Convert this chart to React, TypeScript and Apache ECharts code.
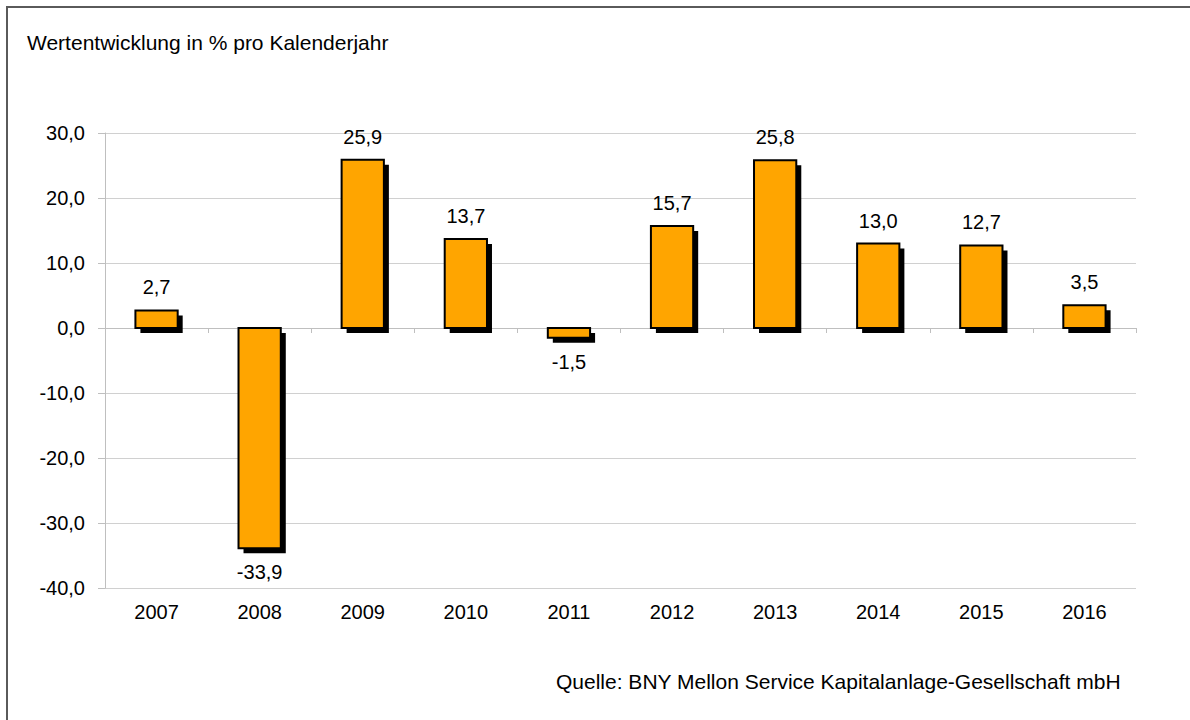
import React, { useEffect, useRef } from "react";
import * as echarts from "echarts";

const years = ["2007", "2008", "2009", "2010", "2011", "2012", "2013", "2014", "2015", "2016"];
const returns = [2.7, -33.9, 25.9, 13.7, -1.5, 15.7, 25.8, 13.0, 12.7, 3.5];
const titleText = "Wertentwicklung in % pro Kalenderjahr";
const sourceText = "Quelle: BNY Mellon Service Kapitalanlage-Gesellschaft mbH";

const FONT = "'Liberation Sans', Arial, sans-serif";
const fmt = (v: number) => v.toFixed(1).replace(".", ",");

export default function App() {
  const ref = useRef<HTMLDivElement>(null);
  useEffect(() => {
    if (!ref.current) return;
    const chart = echarts.init(ref.current, undefined, { renderer: "svg" });
    chart.setOption({
      animation: false,
      backgroundColor: "#ffffff",
      textStyle: { fontFamily: FONT },
      grid: { left: 105, right: 54, top: 133, bottom: 132 },
      xAxis: [
        {
          type: "category",
          data: years,
          position: "bottom",
          axisLine: { show: true, onZero: true, lineStyle: { color: "#bfbfbf", width: 1 } },
          axisTick: { show: true, length: 5, lineStyle: { color: "#bfbfbf" } },
          axisLabel: { show: false },
        },
        {
          type: "category",
          data: years,
          position: "bottom",
          axisLine: { show: false, onZero: false },
          axisTick: { show: false },
          axisLabel: { show: true, color: "#000", fontSize: 20, fontFamily: FONT, margin: 14 },
        },
      ],
      yAxis: {
        type: "value",
        min: -40,
        max: 30,
        interval: 10,
        axisLine: { show: true, lineStyle: { color: "#bfbfbf" } },
        axisTick: { show: true, length: 7, lineStyle: { color: "#bfbfbf" } },
        splitLine: { show: true, lineStyle: { color: "#d0d0d0", width: 1 } },
        axisLabel: { color: "#000", fontSize: 20, fontFamily: FONT, margin: 20, formatter: (v: number) => fmt(v) },
      },
      series: [
        {
          type: "custom",
          xAxisIndex: 0,
          data: returns.map((v, i) => [i, v]),
          renderItem: (params: any, api: any) => {
            const idx = api.value(0);
            const val = api.value(1);
            const top = api.coord([idx, val]);
            const base = api.coord([idx, 0]);
            const w = api.size([1, 0])[0] * 0.41;
            const x = top[0] - w / 2;
            const y1 = Math.min(top[1], base[1]);
            const h = Math.abs(top[1] - base[1]);
            const off = 5;
            const labelY = val >= 0 ? y1 - 23 : y1 + h + 24;
            return {
              type: "group",
              children: [
                { type: "rect", shape: { x: x + off, y: y1 + off, width: w, height: h }, style: { fill: "#000" } },
                {
                  type: "rect",
                  shape: { x, y: y1, width: w, height: h },
                  style: { fill: "#FFA500", stroke: "#000", lineWidth: 2 },
                },
                {
                  type: "text",
                  x: top[0],
                  y: labelY,
                  style: {
                    text: fmt(val),
                    fill: "#000",
                    font: `20px ${FONT}`,
                    align: "center",
                    verticalAlign: "middle",
                  },
                },
              ],
            };
          },
        },
      ],
      graphic: [
        {
          type: "rect",
          shape: { x: 7, y: 7, width: 1300, height: 1000 },
          style: { fill: "none", stroke: "#5a5a5a", lineWidth: 2 },
          silent: true,
        },
        {
          type: "text",
          left: 27,
          top: 32,
          style: { text: titleText, fill: "#000", font: `21px ${FONT}` },
        },
        {
          type: "text",
          left: 556,
          top: 671,
          style: { text: sourceText, fill: "#000", font: `21px ${FONT}` },
        },
      ],
    });
    return () => chart.dispose();
  }, []);
  return <div ref={ref} style={{ width: 1190, height: 720, position: "absolute", left: 0, top: 0 }} />;
}
